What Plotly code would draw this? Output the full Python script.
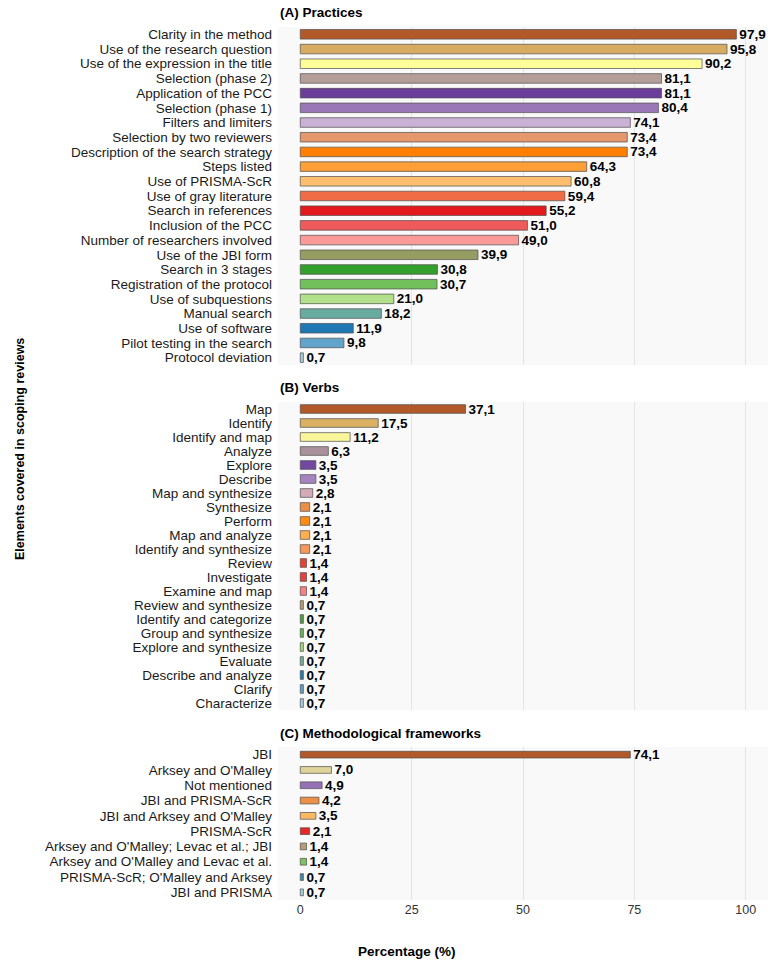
import numpy as np
import plotly.graph_objects as go

# ---------------- data ----------------
practices = [
    "Clarity in the method", "Use of the research question", "Use of the expression in the title",
    "Selection (phase 2)", "Application of the PCC", "Selection (phase 1)", "Filters and limiters",
    "Selection by two reviewers", "Description of the search strategy", "Steps listed",
    "Use of PRISMA-ScR", "Use of gray literature", "Search in references", "Inclusion of the PCC",
    "Number of researchers involved", "Use of the JBI form", "Search in 3 stages",
    "Registration of the protocol", "Use of subquestions", "Manual search", "Use of software",
    "Pilot testing in the search", "Protocol deviation",
]
practices_pct = [97.9, 95.8, 90.2, 81.1, 81.1, 80.4, 74.1, 73.4, 73.4, 64.3, 60.8, 59.4, 55.2,
                 51.0, 49.0, 39.9, 30.8, 30.7, 21.0, 18.2, 11.9, 9.8, 0.7]

verbs = [
    "Map", "Identify", "Identify and map", "Analyze", "Explore", "Describe", "Map and synthesize",
    "Synthesize", "Perform", "Map and analyze", "Identify and synthesize", "Review", "Investigate",
    "Examine and map", "Review and synthesize", "Identify and categorize", "Group and synthesize",
    "Explore and synthesize", "Evaluate", "Describe and analyze", "Clarify", "Characterize",
]
verbs_pct = [37.1, 17.5, 11.2, 6.3, 3.5, 3.5, 2.8, 2.1, 2.1, 2.1, 2.1, 1.4, 1.4, 1.4,
             0.7, 0.7, 0.7, 0.7, 0.7, 0.7, 0.7, 0.7]

frameworks = [
    "JBI", "Arksey and O'Malley", "Not mentioned", "JBI and PRISMA-ScR",
    "JBI and Arksey and O'Malley", "PRISMA-ScR", "Arksey and O'Malley; Levac et al.; JBI",
    "Arksey and O'Malley and Levac et al.", "PRISMA-ScR; O'Malley and Arksey", "JBI and PRISMA",
]
frameworks_pct = [74.1, 7.0, 4.9, 4.2, 3.5, 2.1, 1.4, 1.4, 0.7, 0.7]

panel_titles = ["(A) Practices", "(B) Verbs", "(C) Methodological frameworks"]
tick_vals = [0, 25, 50, 75, 100]
tick_text = ["0", "25", "50", "75", "100"]
x_title = "Percentage (%)"
y_title = "Elements covered in scoping reviews"

# ---------------- styling ----------------
PAIRED = ["#A6CEE3", "#1F78B4", "#B2DF8A", "#33A02C", "#FB9A99", "#E31A1C",
          "#FDBF6F", "#FF7F00", "#CAB2D6", "#6A3D9A", "#FFFF99", "#B15928"]


def ramp(n):
    base = np.array([[int(c[i:i + 2], 16) for i in (1, 3, 5)] for c in PAIRED], float)
    pos = np.linspace(0, len(PAIRED) - 1, n)
    out = []
    for p in pos:
        i = int(np.floor(p))
        j = min(i + 1, len(PAIRED) - 1)
        f = p - i
        rgb = base[i] * (1 - f) + base[j] * f
        out.append("#%02X%02X%02X" % tuple(int(round(v)) for v in rgb))
    return out[::-1]


W, H = 775, 975
FONT = "Liberation Sans, Arial, sans-serif"
X0, X1 = 278, 768
# (top px, bottom px, bar width fraction, title y px)
layout_px = [(27, 365, 0.65, 12), (402, 710, 0.62, 387), (747, 900, 0.44, 733)]

panels = [(practices, practices_pct), (verbs, verbs_pct), (frameworks, frameworks_pct)]

fig = go.Figure()
annotations = []
for k, ((cats, vals), (top, bot, bw, ty)) in enumerate(zip(panels, layout_px)):
    idx = "" if k == 0 else str(k + 1)
    n = len(cats)
    fig.add_trace(go.Bar(
        x=vals, y=cats, orientation="h",
        xaxis="x" + idx, yaxis="y" + idx,
        marker=dict(color=ramp(n), line=dict(color="#4d4d4d", width=0.7)),
        width=bw,
        text=[f"{v:.1f}".replace(".", ",") for v in vals],
        textposition="outside", constraintext="none", cliponaxis=False,
        textfont=dict(family=FONT, size=13.5, color="#000000", weight="bold"),
        showlegend=False, hoverinfo="x+y",
    ))
    last = k == len(panels) - 1
    fig.update_layout(**{
        "xaxis" + idx: dict(
            domain=[X0 / W, X1 / W], range=[-5, 105], anchor="y" + idx,
            tickvals=tick_vals, ticktext=tick_text, showticklabels=last,
            showgrid=False, zeroline=False, showline=False, ticks="",
            tickfont=dict(family=FONT, size=12.5, color="#333333"),
            minor=dict(tickvals=tick_vals[1:], showgrid=True, gridcolor="#e4e4e4",
                       gridwidth=1, ticks=""),
            automargin=False,
        ),
        "yaxis" + idx: dict(
            domain=[1 - bot / H, 1 - top / H], anchor="x" + idx,
            type="category", categoryorder="array", categoryarray=cats,
            tickmode="array", tickvals=cats, ticktext=cats,
            range=[n - 0.5, -0.5], showgrid=False, zeroline=False, ticks="",
            ticklabelstandoff=5,
            tickfont=dict(family=FONT, size=13.5, color="#1a1a1a"),
            automargin=False,
        ),
    })
    annotations.append(dict(
        text=panel_titles[k], x=X0 / W, y=1 - ty / H, xref="paper", yref="paper",
        xanchor="left", yanchor="middle", showarrow=False,
        font=dict(family=FONT, size=13.5, color="#000000", weight="bold"),
    ))

annotations.append(dict(
    text=x_title, x=407 / W, y=1 - 951 / H, xref="paper", yref="paper",
    xanchor="center", yanchor="middle", showarrow=False,
    font=dict(family=FONT, size=13.5, color="#000000", weight="bold"),
))
annotations.append(dict(
    text=y_title, x=20 / W, y=1 - 449 / H, xref="paper", yref="paper",
    xanchor="center", yanchor="middle", showarrow=False, textangle=-90,
    font=dict(family=FONT, size=12.5, color="#000000", weight="bold"),
))

fig.update_layout(
    width=W, height=H, margin=dict(l=0, r=0, t=0, b=0),
    paper_bgcolor="#ffffff", plot_bgcolor="#f9f9f9",
    bargap=0.3, annotations=annotations,
    font=dict(family=FONT),
)
fig.write_html("out.html")
